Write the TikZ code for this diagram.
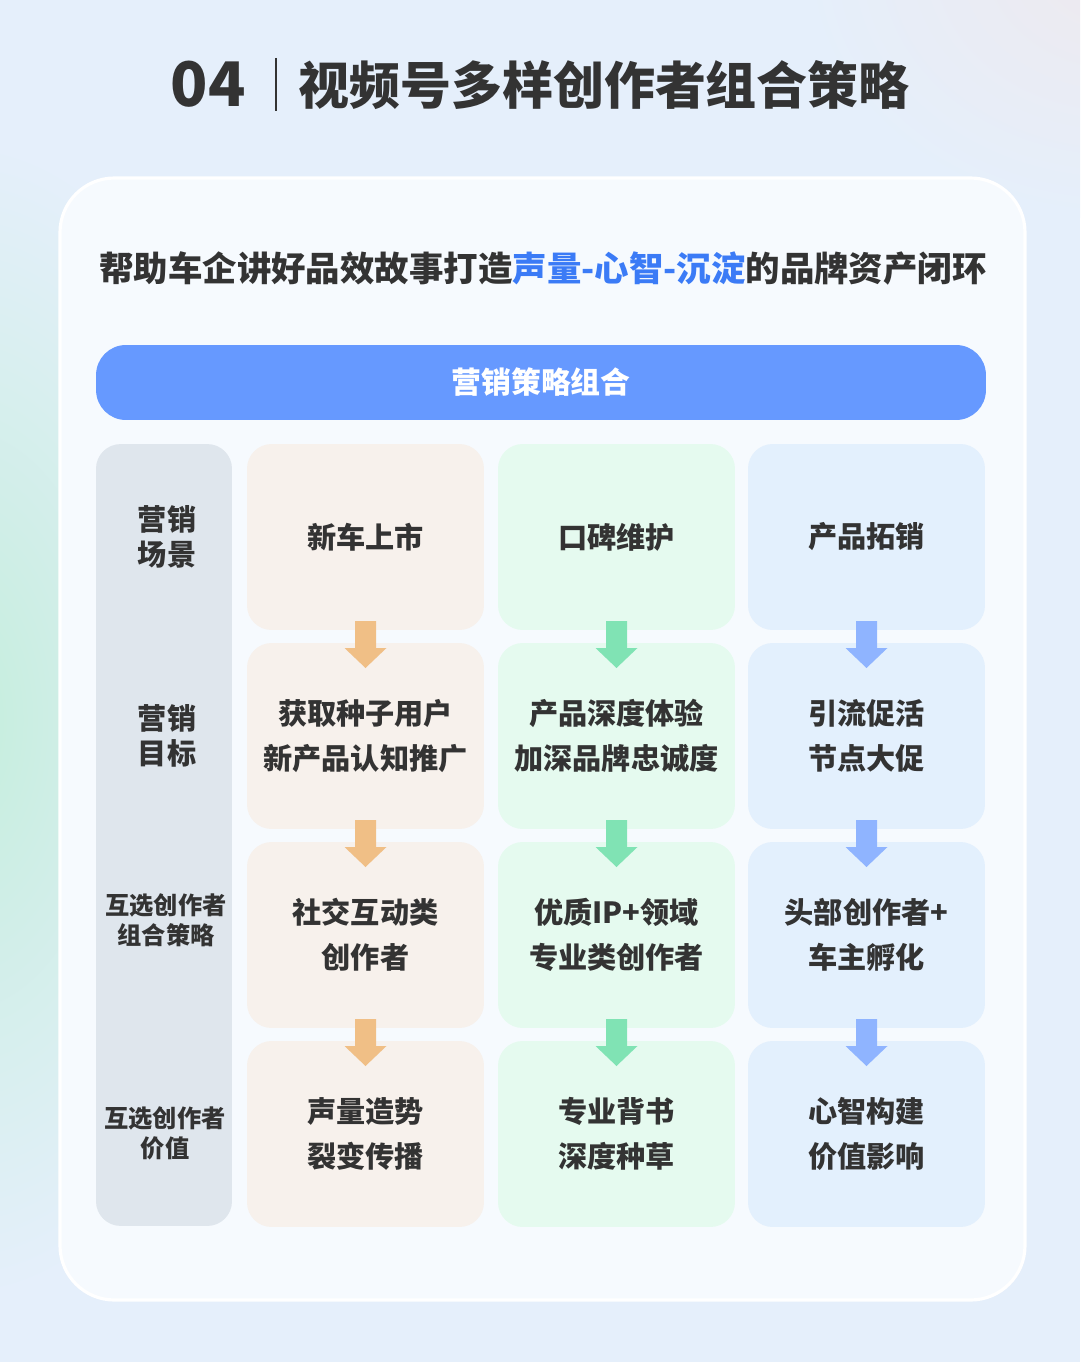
\documentclass[tikz,border=0pt]{standalone}
\usepackage{fontspec}
\setmainfont{Noto Sans CJK SC}
\usetikzlibrary{calc}
\definecolor{bgc}{HTML}{E5EFFB}
\definecolor{glowg}{HTML}{C4EEDC}
\definecolor{glowp}{HTML}{EEE9EE}
\definecolor{cardc}{HTML}{F6FAFE}
\definecolor{barblue}{HTML}{6699FF}
\definecolor{hlblue}{HTML}{3B7BF6}
\definecolor{txtc}{HTML}{333333}
\definecolor{grayc}{HTML}{DFE6ED}
\definecolor{orgc}{HTML}{F7F1EC}
\definecolor{grnc}{HTML}{E5FAEF}
\definecolor{bluc}{HTML}{E3F0FD}
\definecolor{orga}{HTML}{F0BF86}
\definecolor{grna}{HTML}{80E3B4}
\definecolor{blua}{HTML}{8FB4FF}

\tikzset{
  cell/.style={rectangle, rounded corners=14pt, inner sep=0pt, minimum width=4.74cm,
    minimum height=3.72cm, align=center, text=txtc, font=\bfseries\fontsize{16.6}{25.5}\selectfont},
  ocell/.style={cell, fill=orgc},
  gcell/.style={cell, fill=grnc},
  bcell/.style={cell, fill=bluc},
  sidelbl/.style={align=center, text=txtc, font=\bfseries\fontsize{16.6}{20}\selectfont},
  sidelblsm/.style={align=center, text=txtc, font=\bfseries\fontsize{13.8}{17}\selectfont}
}

\begin{document}
\begin{tikzpicture}[x=0.02cm, y=-0.02cm]
% canvas: 1080 x 1362 px, y grows downwards
\clip (0,0) rectangle (1080,1362);
\useasboundingbox (0,0) rectangle (1080,1362);

% ---- background with soft glows ----
\fill[bgc] (0,0) rectangle (1080,1362);
\shade[inner color=glowg, outer color=bgc] (-40,720) ellipse (320 and 580);
\shade[inner color=glowp, outer color=bgc] (1120,-40) ellipse (320 and 260);

% ---- title ----
\node[anchor=base east, text=txtc, font=\bfseries\fontsize{35}{35}\selectfont, inner sep=0pt] (ttlnum) at (246,107) {04};
\node[anchor=base west, text=txtc, font=\bfseries\fontsize{29}{29}\selectfont, inner sep=0pt] (ttltxt) at (298,105) {视频号多样创作者组合策略};
\draw[txtc, line width=1.1pt] (276,58) -- (276,111);

% ---- card ----
\draw[fill=cardc, draw=white, line width=1.8pt, rounded corners=31pt] (60,178) rectangle (1025,1300);

\node[text=txtc, font=\bfseries\fontsize{19.6}{20}\selectfont] (subttl) at (543,268)
  {帮助车企讲好品效故事打造\textcolor{hlblue}{声量-心智-沉淀}的品牌资产闭环};

% ---- header bar ----
\node[rectangle, fill=barblue, rounded corners=17pt, minimum width=17.8cm, minimum height=1.5cm,
  text=white, font=\bfseries\fontsize{17}{17}\selectfont] (hdr) at (541,382.5) {营销策略组合};

% ---- left column ----
\node[rectangle, fill=grayc, rounded corners=14pt, minimum width=2.72cm, minimum height=15.64cm] (side) at (164,835) {};
\node[sidelbl] (s1) at (167,537) {营销\\场景};
\node[sidelbl] (s2) at (167,736) {营销\\目标};
\node[sidelblsm] (s3) at (166,920) {互选创作者\\组合策略};
\node[sidelblsm] (s4) at (165,1133) {互选创作者\\价值};

% ---- cells: c<row><col> ----
\node[ocell] (c11) at (365.5,537) {新车上市};
\node[gcell] (c12) at (616.5,537) {口碑维护};
\node[bcell] (c13) at (866.5,537) {产品拓销};
\node[ocell] (c21) at (365.5,736) {获取种子用户\\新产品认知推广};
\node[gcell] (c22) at (616.5,736) {产品深度体验\\加深品牌忠诚度};
\node[bcell] (c23) at (866.5,736) {引流促活\\节点大促};
\node[ocell] (c31) at (365.5,935) {社交互动类\\创作者};
\node[gcell] (c32) at (616.5,935) {优质IP+领域\\专业类创作者};
\node[bcell] (c33) at (866.5,935) {头部创作者+\\车主孵化};
\node[ocell] (c41) at (365.5,1134) {声量造势\\裂变传播};
\node[gcell] (c42) at (616.5,1134) {专业背书\\深度种草};
\node[bcell] (c43) at (866.5,1134) {心智构建\\价值影响};

% ---- block arrows between rows ----
\foreach \c/\ac in {1/orga, 2/grna, 3/blua}{
  \foreach \r/\s in {1/2, 2/3, 3/4}{
    \coordinate (m\r\c) at ($(c\r\c.south)!0.5!(c\s\c.north)$);
    \fill[\ac, shift={(m\r\c)}] (-10.5,-15.5) -- (10.5,-15.5) -- (10.5,11.5) -- (21,11.5)
      -- (0,31.5) -- (-21,11.5) -- (-10.5,11.5) -- cycle;
  }
}
\end{tikzpicture}
\end{document}
